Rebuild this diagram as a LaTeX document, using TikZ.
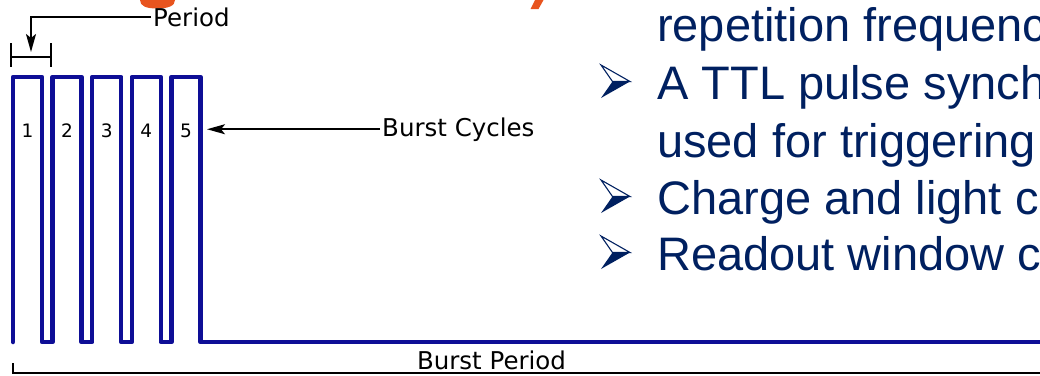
\documentclass[tikz,border=0pt]{standalone}
\usepackage{fontspec}
\setmainfont{Liberation Sans}
\newfontfamily\lblfont{DejaVu Sans}
\usetikzlibrary{arrows.meta}
\definecolor{wavecol}{RGB}{14,14,150}
\definecolor{navy}{RGB}{0,32,96}
\definecolor{titleorange}{RGB}{232,84,30}
\tikzset{
  pulsetrain/.style={draw=wavecol, line width=4.5pt, line join=round, line cap=round},
  dimline/.style={draw=black, line width=1.8pt},
  dimarrow/.style={dimline, -{Stealth[length=18pt,width=10pt,inset=4pt]}},
  lbl/.style={font=\lblfont\fontsize{24.5}{28}\selectfont, inner sep=2pt, text=black},
  cyc/.style={font=\lblfont\fontsize{18.5}{20}\selectfont, inner sep=0pt, text=black},
  bullettext/.style={font=\fontsize{47}{56}\selectfont, text=navy, inner sep=0pt, anchor=base west},
  barrow/.pic={
    \fill[navy] (-2.5,0) -- (15,0) -- (-14,16.5) -- cycle;
    \draw[navy, line width=1.1pt, line join=miter] (-14,-16.5) -- (15,0) -- (-2.5,0) -- cycle;
  }
}
\begin{document}
\begin{tikzpicture}[x=1pt,y=-1pt]
\useasboundingbox (0,0) rectangle (1040,375);
\clip (0,0) rectangle (1040,375);

% descenders of the title line above
\fill[titleorange] (140,0) .. controls (140,6) and (146,8.5) .. (157,8.5)
  .. controls (168,8.5) and (175,6) .. (175,0) -- cycle;
\fill[titleorange] (535,0) -- (543.5,0) -- (538.5,9) -- (530.5,9) -- cycle;

% burst waveform: five cycles, then idle low level
\draw[pulsetrain] (13,342) |- (42,77) |- (52.6,342) |- (81.6,77)
  |- (92.2,342) |- (121.2,77) |- (131.8,342) |- (160.8,77)
  |- (171.4,342) |- (200.4,77) |- (1050,342);

% cycle numbers
\node[cyc] (c1) at (27.5,131) {1};
\node[cyc] (c2) at (67.1,131) {2};
\node[cyc] (c3) at (106.7,131) {3};
\node[cyc] (c4) at (146.3,131) {4};
\node[cyc] (c5) at (185.9,131) {5};

% period marker
\node[lbl, anchor=base west] (per) at (151,26) {Period};
\coordinate (pl) at (11,57);
\coordinate (pr) at (51,57);
\coordinate (ptip) at (31,52);
\draw[dimline] (11,43) -- (11,67) (51,43) -- (51,67) (pl) -- (pr);
\draw[dimarrow] (per.west) -| (ptip);

% burst cycles label
\node[lbl, anchor=base west] (bc) at (380,136) {Burst Cycles};
\coordinate (bctip) at (207,0);
\draw[dimarrow] (bc.west) -- (bc.west -| bctip);

% burst period span
\node[lbl, anchor=base] (bp) at (491.5,369) {Burst Period};
\coordinate (bpl) at (13,363);
\coordinate (bpr) at (1050,373);
\draw[dimline] (bpl) |- (bpr);

% bullet list
\node[bullettext] (t1) at (657,41) {repetition frequenc};
\node[bullettext] (t2) at (657,99) {A TTL pulse synch};
\node[bullettext] (t3) at (657,157) {used for triggering};
\node[bullettext] (t4) at (657,214) {Charge and light c};
\node[bullettext] (t5) at (657,270) {Readout window c};
\pic at (615,81.5) {barrow};
\pic at (615,196.5) {barrow};
\pic at (615,252.5) {barrow};
\end{tikzpicture}
\end{document}
